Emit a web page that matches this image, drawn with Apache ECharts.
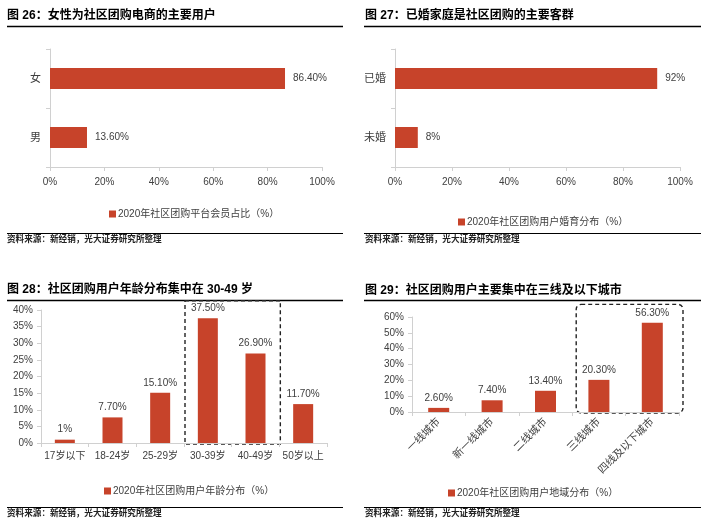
<!DOCTYPE html>
<html>
<head>
<meta charset="utf-8">
<script src="https://cdn.jsdelivr.net/npm/echarts@6.0.0/dist/echarts.min.js"></script>
<style>
  html, body { margin: 0; padding: 0; background: #fff; }
  #main { width: 714px; height: 522px; }
</style>
</head>
<body>
<div id="main"></div>
<script>
// 数据
const genderCats = ['女', '男']
const genderVals = [86.4, 13.6]
const maritalCats = ['已婚', '未婚']
const maritalVals = [92, 8]
const ageCats = ['17岁以下', '18-24岁', '25-29岁', '30-39岁', '40-49岁', '50岁以上']
const ageVals = [1, 7.7, 15.1, 37.5, 26.9, 11.7]
const cityCats = ['一线城市', '新一线城市', '二线城市', '三线城市', '四线及以下城市']
const cityVals = [2.6, 7.4, 13.4, 20.3, 56.3]

const titles = [
  '图 26：女性为社区团购电商的主要用户',
  '图 27：已婚家庭是社区团购的主要客群',
  '图 28：社区团购用户年龄分布集中在 30-49 岁',
  '图 29：社区团购用户主要集中在三线及以下城市'
]
const seriesNames = [
  '2020年社区团购平台会员占比（%）',
  '2020年社区团购用户婚育分布（%）',
  '2020年社区团购用户年龄分布（%）',
  '2020年社区团购用户地域分布（%）'
]
const source = '资料来源：新经销，光大证券研究所整理'

const FONT = "'Liberation Sans', 'Noto Sans CJK SC', sans-serif"
const BAR = '#C7432A'
const TXT = '#404040'
const AXIS = '#D0D0D0'

const pct = v => (Number.isInteger(v) ? v : v.toFixed(2)) + '%'

const chart = echarts.init(document.getElementById('main'))

const valueAxisBase = {
  type: 'value',
  min: 0,
  axisLine: { show: true, lineStyle: { color: AXIS } },
  axisTick: { show: true, length: 4, lineStyle: { color: AXIS } },
  splitLine: { show: false },
  axisLabel: { color: TXT, fontSize: 10, fontFamily: FONT, formatter: '{value}%' }
}
const catAxisBase = {
  type: 'category',
  axisLine: { show: true, lineStyle: { color: AXIS } },
  axisTick: { show: true, length: 4, lineStyle: { color: AXIS } },
  axisLabel: { color: TXT, fontSize: 10, fontFamily: FONT, interval: 0 }
}
const legendBase = {
  icon: 'rect',
  itemWidth: 7,
  itemHeight: 7,
  itemGap: 2,
  textStyle: { color: TXT, fontSize: 10, fontFamily: FONT, padding: [0, 0, 0, -3] }
}
const barLabel = (pos, dist) => ({
  show: true,
  position: pos,
  distance: dist,
  color: TXT,
  fontSize: 10,
  fontFamily: FONT,
  formatter: p => pct(p.value)
})

chart.setOption({
  animation: false,
  backgroundColor: '#fff',
  grid: [
    { left: 50, top: 49, width: 272, height: 118 },
    { left: 395, top: 49, width: 285, height: 118 },
    { left: 41, top: 310, width: 286, height: 133 },
    { left: 412, top: 317, width: 267, height: 95 }
  ],
  xAxis: [
    { ...valueAxisBase, gridIndex: 0, max: 100, interval: 20, axisLabel: { ...valueAxisBase.axisLabel, margin: 10 } },
    { ...valueAxisBase, gridIndex: 1, max: 100, interval: 20, axisLabel: { ...valueAxisBase.axisLabel, margin: 10 } },
    { ...catAxisBase, gridIndex: 2, data: ageCats, axisLabel: { ...catAxisBase.axisLabel, margin: 8 } },
    { ...catAxisBase, gridIndex: 3, data: cityCats,
      axisLabel: { ...catAxisBase.axisLabel, rotate: 45, margin: 8, fontSize: 10.5 } }
  ],
  yAxis: [
    { ...catAxisBase, gridIndex: 0, data: genderCats, inverse: true,
      axisLabel: { ...catAxisBase.axisLabel, fontSize: 11, margin: 9 } },
    { ...catAxisBase, gridIndex: 1, data: maritalCats, inverse: true,
      axisLabel: { ...catAxisBase.axisLabel, fontSize: 11, margin: 9 } },
    { ...valueAxisBase, gridIndex: 2, max: 40, interval: 5, axisLabel: { ...valueAxisBase.axisLabel, margin: 8 } },
    { ...valueAxisBase, gridIndex: 3, max: 60, interval: 10, axisLabel: { ...valueAxisBase.axisLabel, margin: 8 } }
  ],
  legend: [
    { ...legendBase, left: 104, top: 204, data: [seriesNames[0]] },
    { ...legendBase, left: 453, top: 212, data: [seriesNames[1]] },
    { ...legendBase, left: 99, top: 481, data: [seriesNames[2]] },
    { ...legendBase, left: 443, top: 483, data: [seriesNames[3]] }
  ],
  series: [
    { name: seriesNames[0], type: 'bar', xAxisIndex: 0, yAxisIndex: 0, data: genderVals,
      barWidth: 21, itemStyle: { color: BAR }, label: barLabel('right', 8) },
    { name: seriesNames[1], type: 'bar', xAxisIndex: 1, yAxisIndex: 1, data: maritalVals,
      barWidth: 21, itemStyle: { color: BAR }, label: barLabel('right', 8) },
    { name: seriesNames[2], type: 'bar', xAxisIndex: 2, yAxisIndex: 2, data: ageVals,
      barWidth: 20, itemStyle: { color: BAR }, label: barLabel('top', 5) },
    { name: seriesNames[3], type: 'bar', xAxisIndex: 3, yAxisIndex: 3, data: cityVals,
      barWidth: 21, itemStyle: { color: BAR }, label: barLabel('top', 5) }
  ]
})

// 虚线框：按类目带宽换算像素
function bandBox(gridIdx, cats, fromCat, toCat, topVal, shift) {
  const c0 = chart.convertToPixel({ xAxisIndex: gridIdx }, cats[0])
  const c1 = chart.convertToPixel({ xAxisIndex: gridIdx }, cats[1])
  const half = (c1 - c0) / 2
  const xa = chart.convertToPixel({ xAxisIndex: gridIdx }, fromCat) - half + shift
  const xb = chart.convertToPixel({ xAxisIndex: gridIdx }, toCat) + half + shift
  const yTop = chart.convertToPixel({ yAxisIndex: gridIdx }, topVal)
  const yBot = chart.convertToPixel({ yAxisIndex: gridIdx }, 0) + 1
  return { x: xa, y: yTop, width: xb - xa, height: yBot - yTop }
}

const box3 = bandBox(2, ageCats, '30-39岁', '40-49岁', 42.8, 1)
const box4 = bandBox(3, cityCats, '三线城市', '四线及以下城市', 68, 4)

const titleText = (x, y, t) => ({
  type: 'text', x, y,
  style: { text: t, fill: '#000', fontSize: 12, fontWeight: 'bold', fontFamily: FONT, textVerticalAlign: 'middle' }
})
const rule = (x1, x2, y, w) => ({
  type: 'line', shape: { x1, y1: y, x2, y2: y }, style: { stroke: '#000', lineWidth: w }
})
const footer = (x, y) => ({
  type: 'text', x, y,
  style: { text: source, fill: '#222', fontSize: 8.6, fontWeight: 'bold', fontFamily: FONT, textVerticalAlign: 'middle' }
})

chart.setOption({
  graphic: [
    titleText(7, 16, titles[0]),
    titleText(365, 16, titles[1]),
    titleText(7, 290, titles[2]),
    titleText(365, 291, titles[3]),
    rule(7, 343, 26.5, 1.3),
    rule(364, 701, 26.5, 1.3),
    rule(7, 343, 300.5, 1.3),
    rule(364, 701, 300.5, 1.3),
    rule(7, 343, 233.5, 1),
    rule(364, 701, 233.5, 1),
    rule(7, 343, 507.5, 1),
    rule(364, 701, 507.5, 1),
    footer(7, 240),
    footer(365, 240),
    footer(7, 514),
    footer(365, 514),
    { type: 'rect', shape: box3, style: { fill: 'none', stroke: '#222', lineWidth: 1.4, lineDash: [4, 3] } },
    { type: 'rect', shape: { ...box4, r: 5 }, style: { fill: 'none', stroke: '#222', lineWidth: 1.4, lineDash: [4, 3] } }
  ]
})
</script>
</body>
</html>
